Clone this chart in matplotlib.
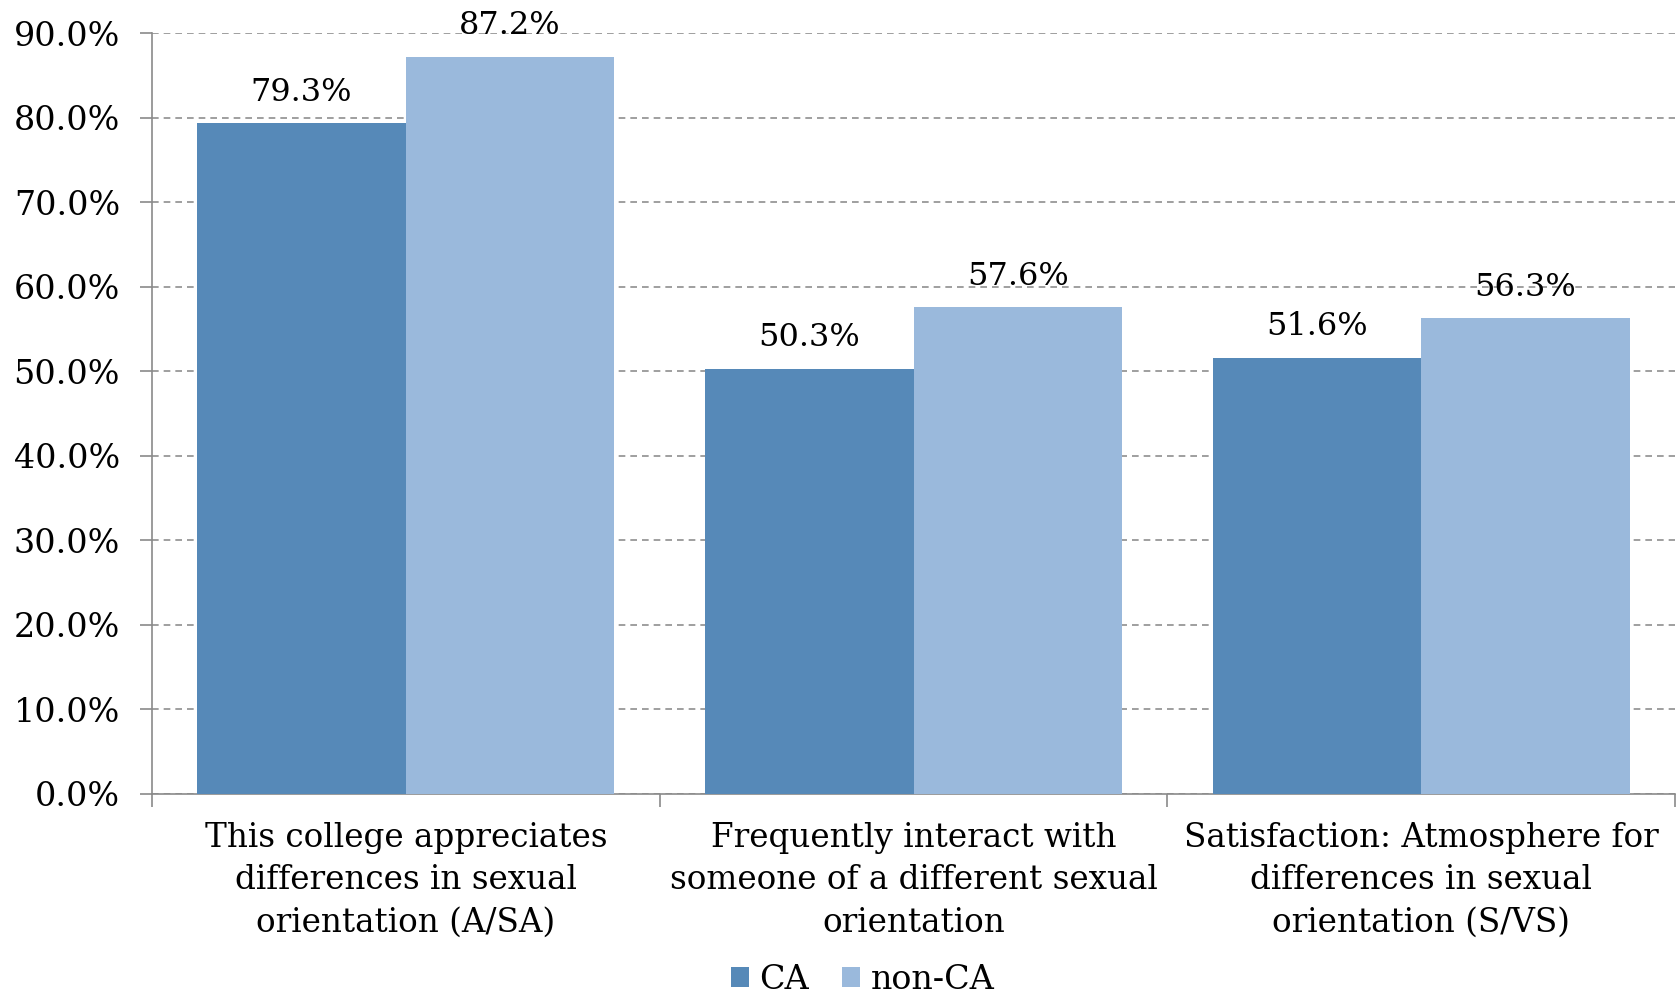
import numpy as np
import matplotlib
matplotlib.use("Agg")
import matplotlib.pyplot as plt
from matplotlib.ticker import FuncFormatter, FixedLocator

# survey items and group percentages
categories = [
    "This college appreciates\ndifferences in sexual\norientation (A/SA)",
    "Frequently interact with\nsomeone of a different sexual\norientation",
    "Satisfaction: Atmosphere for\ndifferences in sexual\norientation (S/VS)",
]
series_names = ["CA", "non-CA"]
ca_values = [79.3, 50.3, 51.6]
nonca_values = [87.2, 57.6, 56.3]
y_ticks = [0, 10, 20, 30, 40, 50, 60, 70, 80, 90]

plt.rcParams['font.family'] = ['DejaVu Serif']

fig = plt.figure(figsize=(16.78, 9.93), dpi=100)
ax = fig.add_axes([152 / 1678, 199 / 993, 1523 / 1678, 761 / 993])

x = np.arange(len(categories))
width = 0.411
colors = ['#5689B8', '#9AB9DC']

bars_ca = ax.bar(x - width / 2, ca_values, width, color=colors[0], label=series_names[0], zorder=3)
bars_non = ax.bar(x + width / 2, nonca_values, width, color=colors[1], label=series_names[1], zorder=3)

for bars, vals in [(bars_ca, ca_values), (bars_non, nonca_values)]:
    for bar, v in zip(bars, vals):
        ax.annotate(f'{v:.1f}%', (bar.get_x() + bar.get_width() / 2, v),
                    xytext=(0, 11), textcoords='offset points',
                    ha='center', va='bottom', fontsize=23, zorder=4)

ax.set_xlim(-0.5, 2.5)
ax.set_ylim(0, 90)
ax.set_yticks(y_ticks)
ax.yaxis.set_major_formatter(FuncFormatter(lambda v, _: f'{v:.1f}%'))
ax.yaxis.grid(True, linestyle=(0, (4, 3)), color='#8f8f8f', linewidth=1.2, zorder=0)
ax.set_axisbelow(True)

ax.set_xticks(x)
ax.set_xticklabels(categories, fontsize=23.5, linespacing=1.42)
ax.xaxis.set_minor_locator(FixedLocator([-0.5, 0.5, 1.5, 2.5]))
ax.tick_params(axis='x', which='major', length=0, pad=20)
ax.tick_params(axis='x', which='minor', length=9, width=1.2, color='#8a8a8a', direction='out')
ax.tick_params(axis='y', length=9, width=1.2, color='#8a8a8a', direction='out', labelsize=24, pad=14)

for side in ['top', 'right']:
    ax.spines[side].set_visible(False)
for side in ['left', 'bottom']:
    ax.spines[side].set_color('#8a8a8a')
    ax.spines[side].set_linewidth(1.2)

fig.legend(loc='lower center', bbox_to_anchor=(0.514, -0.033), ncol=2, frameon=False,
           fontsize=24, handlelength=0.55, handleheight=0.55, handletextpad=0.3,
           columnspacing=1.0)

fig.savefig('out.png', dpi=100)
